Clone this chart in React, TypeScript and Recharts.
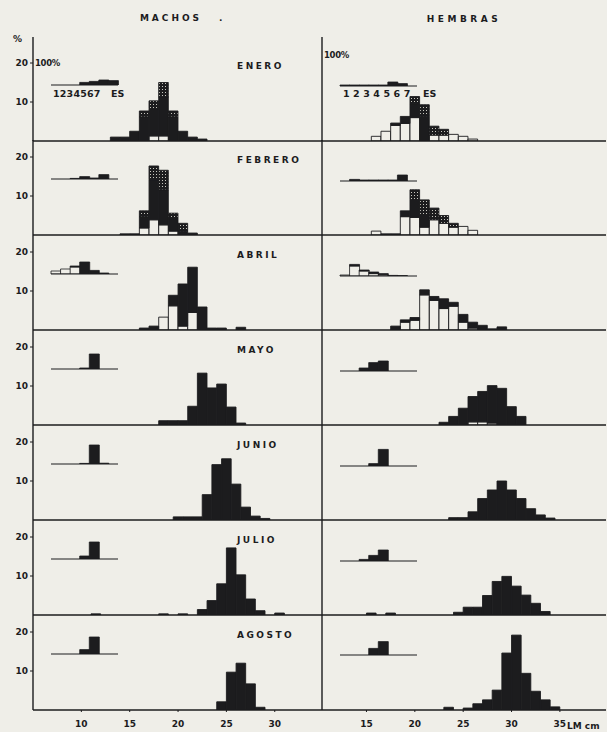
import React from 'react';
import { BarChart, Bar, XAxis, YAxis } from 'recharts';

// [longitud LM (cm, centro de clase), blanco %, punteado %, negro %]
type Bin = [number, number, number, number];

const meses = ['ENERO', 'FEBRERO', 'ABRIL', 'MAYO', 'JUNIO', 'JULIO', 'AGOSTO'];
const ticksMachos = [10, 15, 20, 25, 30];
const ticksHembras = [15, 20, 25, 30, 35];
const ticksPorcentaje = [10, 20];
const estadios = ['1', '2', '3', '4', '5', '6', '7'];

const machosEnero: Bin[] = [[13.5,0,0,1],[14.5,0,0,1],[15.5,0,0,2.5],[16.5,0,1.5,6.2],[17.5,1.3,2,7],[18.5,1.3,3.7,10],[19.5,0,1.5,6.2],[20.5,0,0,2.5],[21.5,0,0,1],[22.5,0,0,0.5]];
const machosFebrero: Bin[] = [[14.5,0,0,0.3],[15.5,0,0,0.3],[16.5,1.8,1.5,2.9],[17.5,3.9,3.5,10.3],[18.5,2.6,5,9],[19.5,1,1.5,3.1],[20.5,0,2,1],[21.5,0,0,0.5]];
const machosAbril: Bin[] = [[16.5,0,0,0.5],[17.5,0,0,1],[18.5,3.3,0,0],[19.5,6.2,0,2.7],[20.5,1,0,10.8],[21.5,4.5,0,11.6],[22.5,0,0,5.9],[23.5,0,0,0.5],[24.5,0,0,0.5],[26.5,0,0,0.7]];
const machosMayo: Bin[] = [[18.5,0,0,1.1],[19.5,0,0,1.1],[20.5,0,0,1.1],[21.5,0,0,4.8],[22.5,0,0,13.3],[23.5,0,0,9.5],[24.5,0,0,10.5],[25.5,0,0,4.6],[26.5,0,0,0.5]];
const machosJunio: Bin[] = [[20,0,0,0.8],[21,0,0,0.8],[22,0,0,0.8],[23,0,0,6.5],[24,0,0,14.2],[25,0,0,15.7],[26,0,0,9.2],[27,0,0,3.3],[28,0,0,1],[29,0,0,0.4]];
const machosJulio: Bin[] = [[11.5,0,0,0.3],[18.5,0,0,0.3],[20.5,0,0,0.3],[22.5,0,0,1.4],[23.5,0,0,3.7],[24.5,0,0,8],[25.5,0,0,17.2],[26.5,0,0,10.3],[27.5,0,0,4.1],[28.5,0,0,1.1],[30.5,0,0,0.5]];
const machosAgosto: Bin[] = [[24.5,0,0,2.1],[25.5,0,0,9.7],[26.5,0,0,12],[27.5,0,0,6.7],[28.5,0,0,0.7]];

const hembrasEnero: Bin[] = [[16,1.2,0,0],[17,2.5,0,0],[18,4,0,0.6],[19,4.5,0,1.8],[20,6,1.9,3.5],[21,0,3,6.3],[22,1.5,2.3,0],[23,1.5,1.5,0],[24,1.7,0,0],[25,1.2,0,0],[26,0.5,0,0]];
const hembrasFebrero: Bin[] = [[16,1,0,0],[17,0,0,0.3],[18,0,0,0.3],[19,4.7,0,1.5],[20,4.5,2.5,4.6],[21,2,4,3],[22,3.9,3,0],[23,3,2,0],[24,2,1,0],[25,2.2,0,0],[26,1.2,0,0]];
const hembrasAbril: Bin[] = [[18,0,0,1],[19,2,0,0.6],[20,2.5,0,0.7],[21,9,0,1.3],[22,7.6,0,1],[23,5.5,0,2.5],[24,6.1,0,1],[25,2,0,2],[26,0.5,0,1.5],[27,0,0,1.2],[28,0,0,0.3],[29,0,0,0.8]];
const hembrasMayo: Bin[] = [[23,0,0,0.7],[24,0,0,2.2],[25,0,0,4.3],[26,0.8,0,6.5],[27,0.8,0,7.8],[28,0.5,0,9.6],[29,0,0,9.4],[30,0,0,4.7],[31,0,0,2.2]];
const hembrasJunio: Bin[] = [[24,0,0,0.6],[25,0,0,0.6],[26,0,0,2.1],[27,0,0,5.5],[28,0,0,7.7],[29,0,0,10],[30,0,0,7.7],[31,0,0,5.5],[32,0,0,2.9],[33,0,0,1.3],[34,0,0,0.5]];
const hembrasJulio: Bin[] = [[15.5,0,0,0.5],[17.5,0,0,0.5],[24.5,0,0,0.7],[25.5,0,0,2],[26.5,0,0,2],[27.5,0,0,5],[28.5,0,0,8.6],[29.5,0,0,9.9],[30.5,0,0,7.4],[31.5,0,0,5.1],[32.5,0,0,3],[33.5,0,0,0.9]];
const hembrasAgosto: Bin[] = [[23.5,0,0,0.7],[25.5,0,0,0.5],[26.5,0,0,1.6],[27.5,0,0,2.6],[28.5,0,0,5.1],[29.5,0,0,14.6],[30.5,0,0,19.2],[31.5,0,0,9.4],[32.5,0,0,4.8],[33.5,0,0,2.6],[34.5,0,0,0.8]];

const machos = [machosEnero, machosFebrero, machosAbril, machosMayo, machosJunio, machosJulio, machosAgosto];
const hembras = [hembrasEnero, hembrasFebrero, hembrasAbril, hembrasMayo, hembrasJunio, hembrasJulio, hembrasAgosto];

// estadios de madurez (insertos), % llenos
const machosEstadios: number[][] = [
  [0,0,0,13,18,25,22],
  [0,0,3,12,5,22,0],
  [0,0,5,60,18,5,0],
  [0,0,0,5,75,0,0],
  [0,0,0,3,95,4,0],
  [0,0,0,15,85,0,0],
  [0,0,0,22,85,0,0],
];
const hembrasEstadios: number[][] = [
  [5,5,5,5,5,20,12],
  [0,8,5,5,5,5,30],
  [0,8,5,8,6,3,2],
  [0,0,15,42,50,0,0],
  [0,0,0,12,83,0,0],
  [0,0,8,28,55,0,0],
  [0,0,0,33,67,0,0],
];
// % abiertos (barras blancas) en los insertos
const machosEstadiosAbiertos: number[][] = [
  [0,0,0,0,0,0,0],[0,0,0,0,0,0,0],[15,25,35,0,0,0,0],[0,0,0,0,0,0,0],[0,0,0,0,0,0,0],[0,0,0,0,0,0,0],[0,0,0,0,0,0,0],
];
const hembrasEstadiosAbiertos: number[][] = [
  [0,0,0,0,0,0,0],[0,0,0,0,0,0,0],[5,50,25,12,6,0,0],[0,0,0,0,0,0,0],[0,0,0,0,0,0,0],[0,0,0,0,0,0,0],[0,0,0,0,0,0,0],
];

const INK = '#1c1c1e';
const PAPER = '#efeee8';
const FONT = "'DejaVu Sans', sans-serif";
const PX_CM = 9.67;
const PX_PCT = 3.9;
const ROW0 = 140.5;
const ROW_STEP = 94.9;

const tickStyle = { fill: INK, fontSize: 9, fontWeight: 700, fontFamily: FONT };

function Panel({ bins, left, row }: { bins: Bin[]; left: boolean; row: number }) {
  const isTop = row === 0;
  const isBottom = row === 6;
  const baseline = ROW0 + row * ROW_STEP;
  const plotH = isTop ? 104 : 95;
  const axisH = isBottom ? 22 : 3;
  const yW = left ? 25 : 2;
  const plotLeft = left ? 33 : 322;
  const plotW = left ? 289 : 284;
  const xMin = left ? 5 : 10.4;
  const data = bins.map(([len, w, d, b]) => ({ len, blanco: w, punteado: d, negro: b }));
  return (
    <div style={{ position: 'absolute', left: plotLeft - yW, top: baseline - plotH }}>
      <BarChart width={yW + plotW} height={plotH + axisH} data={data} margin={{ top: 0, right: 0, bottom: 0, left: 0 }} barSize={9.6}>
        <XAxis
          dataKey="len"
          type="number"
          domain={[xMin, xMin + plotW / PX_CM]}
          allowDataOverflow
          ticks={left ? ticksMachos : ticksHembras}
          interval={0}
          height={axisH}
          tickSize={2}
          tickMargin={9}
          tick={isBottom ? tickStyle : false}
          tickLine={{ stroke: INK }}
          axisLine={{ stroke: INK, strokeWidth: 1.4 }}
        />
        <YAxis
          type="number"
          domain={[0, plotH / PX_PCT]}
          allowDataOverflow
          width={yW}
          ticks={ticksPorcentaje}
          tickSize={3}
          tick={left ? tickStyle : false}
          tickLine={left ? { stroke: INK } : false}
          axisLine={{ stroke: INK, strokeWidth: 1.4 }}
        />
        <Bar dataKey="blanco" stackId="s" fill={PAPER} stroke={INK} strokeWidth={0.9} isAnimationActive={false} />
        <Bar dataKey="negro" stackId="s" fill={INK} stroke={INK} strokeWidth={0.9} isAnimationActive={false} />
        <Bar dataKey="punteado" stackId="s" fill="url(#punteado)" stroke={INK} strokeWidth={0.9} isAnimationActive={false} />
      </BarChart>
    </div>
  );
}

function Inset({ filled, open, left, row }: { filled: number[]; open: number[]; left: boolean; row: number }) {
  const baseline = ROW0 + row * ROW_STEP - (left ? 56 : 54.5);
  const plotLeft = left ? 51 : 340;
  const plotW = left ? 67 : 77;
  const padR = left ? 0 : 10;
  const H = 20;
  const data = estadios.map((e, i) => ({ estadio: e, abierto: open[i], lleno: filled[i] }));
  return (
    <div style={{ position: 'absolute', left: plotLeft - 4, top: baseline - H - 1 }}>
      <BarChart width={4 + plotW + 1} height={1 + H + 2} data={data} margin={{ top: 1, right: 1, left: 4, bottom: 0 }} barCategoryGap={0} barGap={0}>
        <XAxis dataKey="estadio" height={2} tick={false} tickLine={false} axisLine={{ stroke: INK, strokeWidth: 1.2 }} padding={{ left: 0, right: padR }} />
        <YAxis width={0} domain={[0, 100]} allowDataOverflow ticks={[50, 100]} tick={false} tickSize={2} tickLine={{ stroke: INK }} axisLine={{ stroke: INK, strokeWidth: 1.2 }} />
        <Bar dataKey="abierto" stackId="e" fill={PAPER} stroke={INK} strokeWidth={0.8} isAnimationActive={false} />
        <Bar dataKey="lleno" stackId="e" fill={INK} stroke={INK} strokeWidth={0.8} isAnimationActive={false} />
      </BarChart>
    </div>
  );
}

export default function App() {
  const txt = { fill: INK, fontFamily: FONT, fontWeight: 700 } as const;
  return (
    <div style={{ position: 'fixed', left: 0, top: 0, width: 607, height: 732, background: PAPER, overflow: 'hidden' }}>
      <svg width={0} height={0} style={{ position: 'absolute' }}>
        <defs>
          <pattern id="punteado" width="3" height="3" patternUnits="userSpaceOnUse">
            <rect width="3" height="3" fill={INK} />
            <rect x="1" y="1" width="1" height="1" fill="#c8c7bf" />
          </pattern>
        </defs>
      </svg>
      {machos.map((b, i) => <Panel key={'m' + i} bins={b} left row={i} />)}
      {hembras.map((b, i) => <Panel key={'h' + i} bins={b} left={false} row={i} />)}
      {machosEstadios.map((f, i) => <Inset key={'im' + i} filled={f} open={machosEstadiosAbiertos[i]} left row={i} />)}
      {hembrasEstadios.map((f, i) => <Inset key={'ih' + i} filled={f} open={hembrasEstadiosAbiertos[i]} left={false} row={i} />)}
      <svg width={607} height={732} style={{ position: 'absolute', left: 0, top: 0, pointerEvents: 'none' }}>
        <text x={171} y={21} textAnchor="middle" fontSize={9} letterSpacing={3} {...txt}>MACHOS</text>
        <text x={219} y={21} fontSize={9} {...txt}>.</text>
        <text x={464} y={22} textAnchor="middle" fontSize={9} letterSpacing={3.5} {...txt}>HEMBRAS</text>
        <text x={13} y={42} fontSize={9} {...txt}>%</text>
        {meses.map((m, i) => (
          <text key={m} x={237} y={ROW0 + i * ROW_STEP - 72} fontSize={9} letterSpacing={2.5} {...txt}>{m}</text>
        ))}
        <text x={35} y={66} fontSize={8.5} letterSpacing={-0.3} {...txt}>100%</text>
        <text x={324} y={58} fontSize={8.5} letterSpacing={-0.3} {...txt}>100%</text>
        <text x={53} y={97} fontSize={9.5} letterSpacing={0.2} {...txt}>1234567</text>
        <text x={111} y={97} fontSize={9.5} {...txt}>ES</text>
        <text x={343} y={97} fontSize={9.5} letterSpacing={3.5} {...txt}>1234567</text>
        <text x={423} y={97} fontSize={9.5} {...txt}>ES</text>
        <text x={567} y={729} fontSize={9} {...txt}>LM cm</text>
      </svg>
    </div>
  );
}
